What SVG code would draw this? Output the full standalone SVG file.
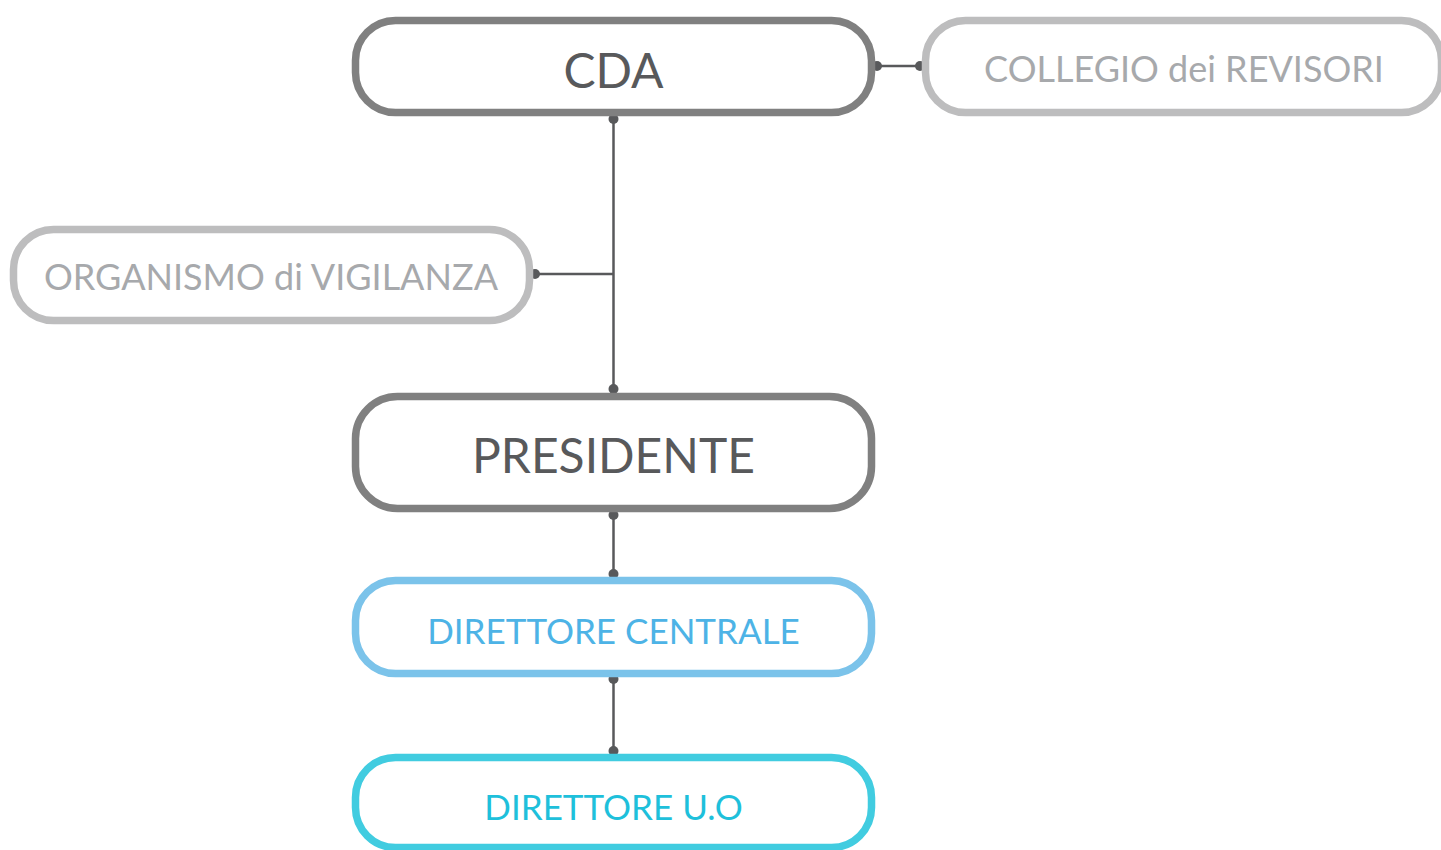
<svg xmlns="http://www.w3.org/2000/svg" width="1441" height="850" viewBox="0 0 1441 850">
<style>
.box{fill:#fff;stroke-width:7.5}
.main{stroke:#808080}
.side{stroke:#bdbdbe}
.dc{stroke:#7bc3ea}
.uo{stroke:#41cce0}
text{font-family:Lato,"Liberation Sans",sans-serif;text-anchor:middle}
.tmain{fill:#58595b;font-size:48px}
.tside{fill:#a7a9ac;font-size:36px}
.tdc{fill:#4db3e6;font-size:35px}
.tuo{fill:#1ec0db;font-size:35px}
.ln{stroke:#58595b;stroke-width:2.5;fill:none}
.dot{fill:#58595b}
</style>
<rect width="1441" height="850" fill="#fff"/>
<g id="connectors">
<path class="ln" d="M877 66H920"/>
<path class="ln" d="M613.5 119V389"/>
<path class="ln" d="M535 274H613.5"/>
<path class="ln" d="M613.5 515V574"/>
<path class="ln" d="M613.5 679V751"/>
<circle class="dot" cx="877" cy="66" r="5"/>
<circle class="dot" cx="920" cy="66" r="5"/>
<circle class="dot" cx="613.5" cy="119" r="5"/>
<circle class="dot" cx="613.5" cy="389" r="5"/>
<circle class="dot" cx="535" cy="274" r="5"/>
<circle class="dot" cx="613.5" cy="515" r="5"/>
<circle class="dot" cx="613.5" cy="574" r="5"/>
<circle class="dot" cx="613.5" cy="679" r="5"/>
<circle class="dot" cx="613.5" cy="751" r="5"/>
</g>
<g id="cda">
<rect class="box main" x="355.5" y="20.5" width="516" height="92" rx="40"/>
<text class="tmain" x="613.5" y="88">CDA</text>
</g>
<g id="collegio">
<rect class="box side" x="925.5" y="20.5" width="516" height="92" rx="40"/>
<text class="tside" x="1184" y="82">COLLEGIO dei REVISORI</text>
</g>
<g id="organismo">
<rect class="box side" x="13.5" y="229.5" width="516" height="91" rx="40"/>
<text class="tside" x="271" y="290">ORGANISMO di VIGILANZA</text>
</g>
<g id="presidente">
<rect class="box main" x="355.5" y="396.5" width="516" height="112" rx="42"/>
<text class="tmain" x="613.5" y="473">PRESIDENTE</text>
</g>
<g id="direttore-centrale">
<rect class="box dc" x="355.5" y="580.5" width="516" height="93" rx="40"/>
<text class="tdc" x="613.5" y="644">DIRETTORE CENTRALE</text>
</g>
<g id="direttore-uo">
<rect class="box uo" x="355.5" y="757.5" width="516" height="90" rx="40"/>
<text class="tuo" x="613.5" y="820">DIRETTORE U.O</text>
</g>
</svg>
